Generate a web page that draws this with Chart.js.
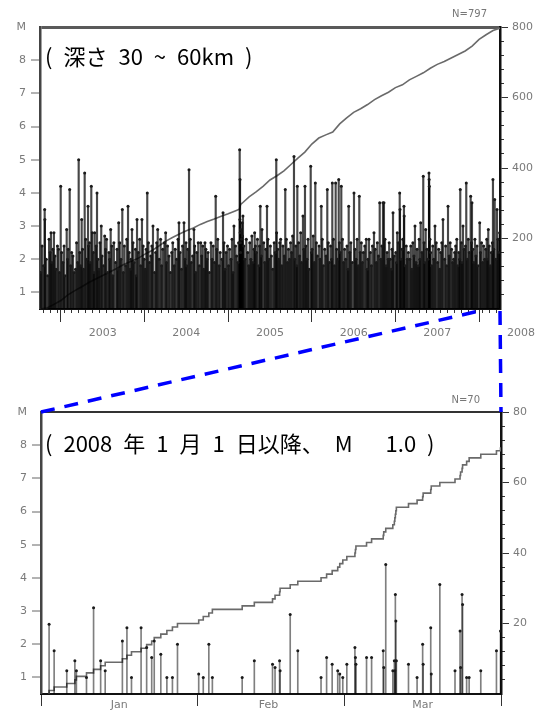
<!DOCTYPE html>
<html><head><meta charset="utf-8">
<script src="https://cdn.jsdelivr.net/npm/chart.js@4.4.1/dist/chart.umd.min.js"></script>
<style>
html,body{margin:0;padding:0;background:#fff;}
#wrap{position:relative;width:545px;height:710px;overflow:hidden;background:#fff;}
#c1{position:absolute;left:0;top:0;width:545px;height:355px;}
#c2{position:absolute;left:0;top:360px;width:545px;height:350px;}
#ov{position:absolute;left:0;top:0;width:545px;height:710px;pointer-events:none;}
.lbl{position:absolute;white-space:nowrap;}
.n{font-family:"DejaVu Sans";font-size:10px;line-height:12px;color:#777;}
.t{font-family:"Noto Sans CJK JP";font-size:22px;line-height:22px;color:#000;}
</style></head><body>
<div id="wrap">
<canvas id="c1" width="545" height="355"></canvas>
<canvas id="c2" width="545" height="350"></canvas>
<canvas id="ov" width="545" height="710"></canvas>
<div class="lbl n" style="right:58px;top:8px;">N=797</div>
<div class="lbl t" style="left:45px;top:44px;">(&#8194;深さ&#8194;30&#8194;~&#8194;60km&#8194;)</div>
<div class="lbl n" style="right:65px;top:394px;">N=70</div>
<div class="lbl t" style="left:45px;top:431px;">(&#8194;2008&#8194;年&#8194;1&#8194;月&#8194;1&#8194;日以降、&#8194;M&#12288;&#8194;1.0&#8194;)</div>
</div>
<script>
// ---------- Top panel (months since 2002-10-01) ----------
const topMonth = [
0.1,0.3,0.5,0.67,0.7,0.9,
1.1,1.3,1.45,1.58,1.7,1.85,
2.0,2.15,2.3,2.5,2.65,2.8,2.97,
3.1,3.3,3.45,3.6,3.83,3.95,
4.05,4.26,4.4,4.55,4.73,4.9,
5.1,5.25,5.4,5.55,5.7,5.85,5.98,
6.1,6.25,6.41,6.55,6.7,6.89,6.95,
7.1,7.2,7.36,7.5,7.65,7.75,7.85,
8.05,8.18,8.3,8.45,8.6,8.79,8.9,
9.1,9.28,9.4,9.55,9.7,9.9,
10.0,10.14,10.3,10.45,10.6,10.85,
11.05,11.15,11.29,11.45,11.6,11.81,11.95,
12.1,12.3,12.45,12.63,12.8,12.95,
13.05,13.2,13.35,13.5,13.7,13.8,13.92,
14.1,14.3,14.45,14.63,14.8,14.95,
15.1,15.25,15.39,15.55,15.7,15.9,
16.05,16.21,16.45,16.6,16.75,16.89,
17.1,17.3,17.45,17.6,17.85,
18.03,18.15,18.3,18.5,18.7,18.9,
19.05,19.25,19.4,19.6,19.8,19.94,
20.1,20.3,20.45,20.66,20.8,20.95,
21.05,21.2,21.38,21.55,21.7,21.9,
22.09,22.2,22.35,22.5,22.7,22.85,
23.06,23.2,23.35,23.5,23.67,23.8,23.95,
24.1,24.3,24.53,24.7,24.85,
25.05,25.21,25.35,25.5,25.7,25.85,
26.1,26.26,26.4,26.55,26.7,26.9,
27.05,27.2,27.4,27.55,27.7,27.83,
28.05,28.2,28.4,28.5,28.65,28.68,28.7,28.72,28.75,28.78,28.8,28.9,
29.0,29.05,29.12,29.25,29.4,29.6,29.8,29.95,
30.1,30.25,30.4,30.55,30.7,30.8,30.9,
31.05,31.2,31.4,31.5,31.61,31.75,31.85,
32.1,32.25,32.4,32.57,32.7,32.85,
33.05,33.2,33.4,33.6,33.75,33.9,33.95,
34.1,34.25,34.4,34.53,34.7,34.85,
35.05,35.19,35.35,35.5,35.65,35.8,35.95,
36.1,36.25,36.44,36.55,36.7,36.85,36.92,
37.1,37.25,37.4,37.55,37.73,37.85,
38.02,38.15,38.3,38.45,38.6,38.84,38.95,
39.05,39.2,39.35,39.5,39.65,39.8,
40.05,40.2,40.36,40.5,40.65,40.85,
41.05,41.22,41.35,41.5,41.7,41.85,41.94,
42.1,42.25,42.42,42.55,42.7,42.86,42.95,
43.05,43.23,43.4,43.55,43.7,43.85,
44.05,44.2,44.29,44.45,44.6,44.8,
45.05,45.2,45.35,45.5,45.65,45.81,45.95,
46.1,46.25,46.4,46.6,46.81,46.95,
47.05,47.2,47.4,47.55,47.7,47.92,
48.1,48.25,48.4,48.55,48.74,48.9,
49.05,49.21,49.35,49.5,49.65,49.8,49.95,
50.1,50.25,50.4,50.5,50.65,50.8,
51.05,51.15,51.26,51.4,51.61,51.65,51.8,51.95,
52.05,52.22,52.25,52.4,52.55,52.7,52.85,
53.05,53.2,53.35,53.5,53.65,53.8,53.95,
54.1,54.25,54.4,54.5,54.62,54.8,54.99,
55.1,55.2,55.34,55.5,55.65,55.81,55.83,55.86,55.95,
56.05,56.2,56.35,56.5,56.67,56.85,
57.05,57.2,57.35,57.5,57.65,57.82,
58.05,58.2,58.35,58.54,58.7,58.85,
59.05,59.2,59.35,59.5,59.64,59.8,59.95,
60.1,60.2,60.3,60.45,60.55,60.69,60.85,
61.05,61.16,61.3,61.45,61.6,61.79,61.9,61.98,
62.1,62.25,62.4,62.55,62.7,62.85,
63.09,63.2,63.35,63.5,63.65,63.8,63.95,
64.1,64.2,64.32,64.45,64.6,64.75,64.9,64.99,
65.1,65.24,65.4,65.57,65.7,65.8,65.95
];
const topMag = [
1.6,2.4,1.8,3.5,3.2,2.0,
1.5,2.6,2.2,2.8,1.9,2.3,
2.8,2.1,1.7,2.4,2.3,1.6,4.2,
2.2,1.9,2.4,1.5,2.9,2.0,
2.3,4.1,1.8,2.2,2.1,1.6,
1.7,2.5,1.9,5.0,2.2,1.8,3.2,
2.3,1.7,4.6,2.6,2.0,3.6,2.4,
2.5,1.9,4.2,2.8,2.2,1.6,2.8,
2.4,4.0,2.0,1.7,2.5,3.0,2.1,
1.8,2.7,2.3,2.6,1.6,2.2,
2.0,2.9,2.4,1.5,2.5,1.9,
2.3,1.7,3.1,2.5,2.0,3.5,1.6,
2.4,1.8,2.6,3.6,2.2,1.7,
2.0,2.9,2.5,1.9,2.3,1.5,3.2,
2.2,2.6,1.8,3.2,2.4,2.0,
1.7,2.3,4.0,2.5,1.9,2.1,
2.4,3.0,1.6,2.2,2.5,2.9,
2.0,2.6,1.8,2.3,2.5,
2.8,1.9,2.4,2.1,1.6,2.2,
2.5,1.8,2.3,2.0,2.6,3.1,
2.2,1.7,2.4,3.1,2.0,2.5,
1.8,2.3,4.7,2.6,1.9,2.1,
2.9,2.4,1.6,2.2,2.5,1.8,
2.5,2.1,2.4,1.7,2.5,2.3,2.0,
2.2,1.6,2.5,2.0,2.4,
1.9,3.9,2.3,2.6,1.8,2.2,
2.0,3.4,2.5,1.7,2.2,2.4,
1.8,2.3,2.0,2.6,1.6,3.0,
2.4,2.1,1.9,2.5,5.3,3.2,4.4,2.8,2.5,2.2,2.9,2.6,
3.1,2.7,3.3,2.4,2.0,2.6,2.2,1.8,
2.5,2.0,2.7,1.9,2.3,2.8,2.4,
2.2,2.6,1.8,2.4,3.6,2.1,2.9,
2.5,1.9,2.3,3.6,2.6,2.0,
2.4,2.1,1.7,2.5,2.2,5.0,2.8,
2.3,2.0,2.5,2.6,1.8,2.4,
2.1,4.1,2.6,1.9,2.3,2.0,2.5,
2.2,2.7,5.1,2.0,2.4,1.8,4.2,
2.5,2.1,2.8,1.9,3.3,2.3,
4.2,2.4,2.0,2.6,1.7,4.8,2.2,
2.3,2.7,1.9,4.3,2.5,2.1,
2.4,2.0,3.6,2.6,1.8,2.3,
2.1,4.1,2.5,1.9,2.4,2.0,4.3,
2.6,1.8,4.3,2.3,2.0,4.4,2.5,
2.2,4.2,2.6,1.9,2.3,2.0,
2.4,1.7,3.6,2.2,2.5,1.9,
4.0,2.3,2.0,2.6,1.8,3.9,2.2,
2.5,1.9,2.2,2.4,2.6,1.7,
2.0,2.6,2.2,1.8,2.4,2.8,
2.3,1.9,2.5,2.1,3.7,2.0,
2.4,3.7,3.7,2.6,1.8,2.2,2.0,
2.5,2.0,1.7,2.3,3.4,2.1,
2.2,1.9,2.8,2.5,4.0,3.5,2.0,2.3,
2.6,3.6,3.3,1.8,2.4,2.0,2.2,
2.0,2.4,1.7,2.5,2.1,3.0,1.9,
2.3,1.8,2.6,2.0,3.1,2.2,4.5,
2.5,1.9,2.9,2.3,2.0,4.6,4.4,4.2,2.6,
2.2,1.8,2.4,2.0,3.0,2.5,
1.9,2.3,1.7,2.2,2.5,3.2,
2.0,2.4,1.8,3.6,2.1,2.5,
2.3,1.9,2.0,2.2,2.4,2.6,1.8,
2.2,2.0,4.1,2.5,1.9,3.0,2.3,
2.4,4.3,2.0,2.6,2.2,3.9,2.5,3.7,
2.3,1.9,2.6,2.1,2.4,1.8,
3.1,2.2,2.5,1.9,2.4,2.0,2.3,
2.6,2.0,2.9,2.4,1.8,2.2,2.5,4.4,
2.3,3.8,2.0,3.5,2.6,2.2,2.8
];
// cumulative number (right axis), read at month marks
const topCumMonth = [0,1,2,3,4,5,6,7,8,9,10,11,12,13,14,15,16,17,18,19,20,21,22,23,24,25,26,27,28,28.6,28.8,29,30,31,32,33,34,35,36,37,38,39,40,41,42,43,44,45,46,47,48,49,50,51,52,53,54,55,56,57,58,59,60,61,62,63,64,65,66];
const topCumCount = [0,3,13,24,40,52,63,75,85,95,105,115,126,135,143,155,165,178,192,203,213,222,230,240,248,255,263,270,278,283,297,300,318,332,348,366,378,392,410,428,445,468,485,494,502,525,542,558,568,580,594,605,615,628,636,650,660,670,683,694,702,712,722,732,746,765,778,790,797];
const topYearEdges = [3,15,27,39,51,63];
const topYearMids = [9,21,33,45,57,69];
const topYearLabels = ['2003','2004','2005','2006','2007','2008'];
const topMonthTicks = [0,1,2,3,4,5,6,7,8,9,10,11,12,13,14,15,16,17,18,19,20,21,22,23,24,25,26,27,28,29,30,31,32,33,34,35,36,37,38,39,40,41,42,43,44,45,46,47,48,49,50,51,52,53,54,55,56,57,58,59,60,61,62,63,64,65,66];
const topCumMajor = [200,400,600,800];
const topCumMinor = [40,80,120,160,240,280,320,360,440,480,520,560,640,680,720,760];

// ---------- Bottom panel (days since 2008-01-01) ----------
const botDays = [1.6,2.6,5.1,6.7,7.0,9.0,10.4,11.8,12.7,16.1,17.0,17.9,19.8,20.9,21.9,22.4,23.7,24.9,26.0,27.0,31.2,32.1,33.2,33.9,39.8,42.2,45.8,46.3,47.2,47.3,49.3,50.8,55.4,56.5,57.6,58.7,59.1,59.7,60.5,62.1,62.2,62.3,64.4,65.4,67.7,67.8,68.2,69.6,69.9,70.0,70.1,70.2,70.3,72.7,74.4,75.5,75.6,77.1,77.2,78.9,81.9,82.9,83.0,83.3,83.4,84.2,84.7,87.0,90.1,90.9];
const botMags = [2.6,1.8,1.2,1.5,1.2,1.0,3.1,1.5,1.2,2.1,2.5,1.0,2.5,1.9,1.6,2.1,1.7,1.0,1.0,2.0,1.1,1.0,2.0,1.0,1.0,1.5,1.4,1.3,1.5,1.2,2.9,1.8,1.0,1.6,1.4,1.2,1.1,1.0,1.4,1.9,1.6,1.4,1.6,1.6,1.8,1.3,4.4,1.2,1.5,1.2,3.5,2.7,1.5,1.4,1.0,2.0,1.4,2.5,1.1,3.8,1.2,2.4,1.3,3.5,3.2,1.0,1.0,1.2,1.8,2.4];
const botMonthEdges = [0,31,60,91];
const botMonthMids = [15.5,45,75.5];
const botMonthLabels = ['Jan','Feb','Mar'];
const botCumMajor = [20,40,60,80];
const botCumMinor = [4,8,12,16,24,28,32,36,44,48,52,56,64,68,72,76];

const magTicks = [1,2,3,4,5,6,7,8,9];
const TICKFONT = {family:'DejaVu Sans', size:11};
const TICKCOL = '#7a7a7a';
const CLEAR = 'rgba(0,0,0,0)';

function panel(canvasId, o) {
  const stems = o.xs.map((x,i)=>({x:x, y:[0.5, o.ms[i]]}));
  const tops = o.xs.map((x,i)=>({x:x, y:o.ms[i]}));
  const cum = o.cumX.map((x,i)=>({x:x, y:o.cumY[i]}));
  return new Chart(document.getElementById(canvasId), {
    type: 'bar',
    data: { datasets: [
      { type:'line', data:cum, xAxisID:'x', yAxisID:'y2', borderColor:'#6a6a6a', borderWidth:1.6,
        pointRadius:0, tension:0, stepped:o.stepped, fill:false, order:3 },
      { type:'bar', data:stems, xAxisID:'x', yAxisID:'y', backgroundColor:o.stemColor,
        barThickness:o.stemW, borderWidth:0, order:2 },
      { type:'scatter', data:tops, xAxisID:'x', yAxisID:'y', pointRadius:1.5, pointStyle:'circle',
        pointBackgroundColor:'#1a1a1a', pointBorderWidth:0, order:1 }
    ]},
    options: {
      responsive:false, animation:false, events:[],
      layout:{ padding:{ top:o.padTop, left:0, right:0, bottom:0 } },
      plugins:{ legend:{display:false}, tooltip:{enabled:false} },
      scales: {
        xm: { type:'linear', position:'bottom', weight:-1, min:o.xmin, max:o.xmax, offset:false,
          display: o.minorX ? true : false,
          afterBuildTicks: s => { s.ticks = (o.minorX||[]).map(v=>({value:v})); },
          afterFit: s => { s.height = 0; },
          grid:{ drawOnChartArea:false, drawTicks:true, tickLength:4, tickColor:'#333', tickWidth:1, lineWidth:1 },
          border:{ display:false }, ticks:{ display:false } },
        x: { type:'linear', position:'bottom', min:o.xmin, max:o.xmax, offset:false,
          afterBuildTicks: s => { s.ticks = o.edges.map(v=>({value:v})).concat(o.mids.map(v=>({value:v}))); },
          afterFit: s => { s.height = o.xH; },
          grid:{ offset:false, drawOnChartArea:false, drawTicks:true, tickLength:o.xTick, tickWidth:1, lineWidth:1,
            tickColor: c => (c.tick && o.edges.includes(c.tick.value)) ? '#333' : CLEAR },
          border:{ display:true, color:'#111', width:2 },
          ticks:{ autoSkip:false, maxRotation:0, minRotation:0, padding:o.xPad, color:TICKCOL, font:TICKFONT,
            callback: v => { const k = o.mids.indexOf(v); return k >= 0 ? o.labels[k] : ''; } } },
        y: { type:'linear', position:'left', min:0.5, max:9,
          afterBuildTicks: s => { s.ticks = magTicks.map(v=>({value:v})); },
          afterFit: s => { s.width = o.yW; },
          grid:{ drawOnChartArea:true, drawTicks:true, tickLength:9, tickWidth:1,
            color: c => (c.tick && c.tick.value === 9) ? o.topBorder : CLEAR,
            lineWidth: c => (c.tick && c.tick.value === 9) ? o.topBorderW : 0,
            tickColor: c => (c.tick && c.tick.value === 9) ? CLEAR : '#666' },
          border:{ display:true, color:'#444', width:2.5 },
          ticks:{ autoSkip:false, padding:5, color:TICKCOL, font:TICKFONT,
            callback: v => v === 9 ? 'M' : String(v) } },
        y2m: { type:'linear', position:'right', weight:-1, min:0, max:o.cmax,
          afterBuildTicks: s => { s.ticks = o.cumMinor.map(v=>({value:v})); },
          afterFit: s => { s.width = 0; },
          grid:{ drawOnChartArea:false, drawTicks:true, tickLength:4, tickColor:'#333', tickWidth:1, lineWidth:1 },
          border:{ display:false }, ticks:{ display:false } },
        y2: { type:'linear', position:'right', min:0, max:o.cmax,
          afterBuildTicks: s => { s.ticks = o.cumMajor.map(v=>({value:v})); },
          afterFit: s => { s.width = o.y2W; },
          grid:{ drawOnChartArea:false, drawTicks:true, tickLength:8, tickColor:'#333', tickWidth:1, lineWidth:1 },
          border:{ display:true, color:'#111', width:2.5 },
          ticks:{ autoSkip:false, padding:4, color:TICKCOL, font:TICKFONT } }
      }
    }
  });
}

const topChart = panel('c1', {
  xs: topMonth, ms: topMag, cumX: topCumMonth, cumY: topCumCount, stepped:false,
  stemColor:'rgba(0,0,0,0.72)', stemW:1.5, xmin:0, xmax:66, minorX: topMonthTicks,
  edges: topYearEdges, mids: topYearMids, labels: topYearLabels,
  xH:46, xTick:13, xPad:5, yW:40, y2W:45, padTop:27, cmax:800,
  cumMajor: topCumMajor, cumMinor: topCumMinor, topBorder:'#5a5a5a', topBorderW:3
});

const botCumY = [0].concat(botDays.map((d,i)=>i+1));
const botChart = panel('c2', {
  xs: botDays, ms: botMags, cumX: [botDays[0]].concat(botDays), cumY: botCumY, stepped:true,
  stemColor:'rgba(0,0,0,0.5)', stemW:1, xmin:0, xmax:91, minorX: null,
  edges: botMonthEdges, mids: botMonthMids, labels: botMonthLabels,
  xH:16, xTick:12, xPad:-7, yW:41, y2W:44, padTop:52, cmax:80,
  cumMajor: botCumMajor, cumMinor: botCumMinor, topBorder:'#333', topBorderW:2
});

// ---------- zoom connector (dashed blue) ----------
(function(){
  const g = document.getElementById('ov').getContext('2d');
  const OFF = 360;
  const px = topChart.scales.x.getPixelForValue(63);
  const py = topChart.chartArea.bottom + 2;
  const bx = botChart.chartArea.left;
  const by = botChart.chartArea.top + OFF;
  g.strokeStyle = '#0000ff'; g.lineWidth = 3.5; g.setLineDash([14, 10]);
  g.beginPath(); g.moveTo(bx, by); g.lineTo(px, py); g.stroke();
  g.beginPath(); g.moveTo(topChart.chartArea.right, py); g.lineTo(botChart.chartArea.right, by); g.stroke();
})();
</script>
</body></html>
